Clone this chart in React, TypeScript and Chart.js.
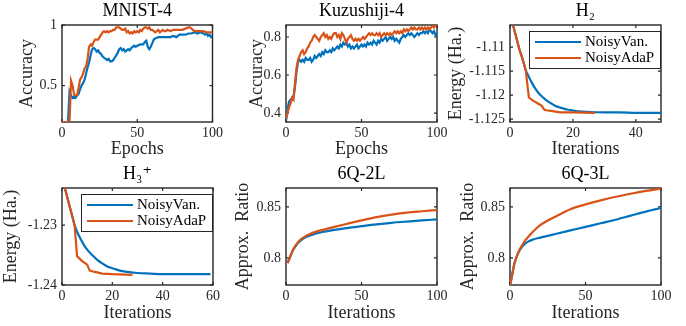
import React, { useEffect, useRef } from "react";
import { Chart, registerables } from "chart.js";
Chart.register(...registerables);

const FONT = '"Liberation Serif", "DejaVu Serif", serif';
const BLUE = "#0072BD";
const ORANGE = "#D95319";
const VAN = "NoisyVan.";
const ADA = "NoisyAdaP";

// ---------- MNIST-4 (epoch, accuracy) ----------
const mnistVan: number[][] = [
  [0, 0.2], [4, 0.2], [5, 0.45], [6, 0.42], [7, 0.4], [8, 0.41], [9, 0.4], [10, 0.42], [11, 0.43], [12, 0.47],
  [13, 0.5], [14, 0.52], [15, 0.55], [16, 0.6], [17, 0.65], [18, 0.69], [19, 0.75], [20, 0.8], [21, 0.81], [22, 0.8],
  [23, 0.78], [24, 0.79], [25, 0.77], [26, 0.76], [27, 0.74], [28, 0.73], [29, 0.72], [30, 0.71], [31, 0.72], [32, 0.7],
  [33, 0.7], [34, 0.71], [35, 0.73], [36, 0.75], [37, 0.77], [38, 0.8], [39, 0.81], [40, 0.79], [41, 0.8], [42, 0.78],
  [43, 0.79], [44, 0.8], [45, 0.79], [46, 0.81], [47, 0.82], [48, 0.83], [49, 0.82], [50, 0.83], [52, 0.84], [54, 0.84],
  [55, 0.86], [56, 0.87], [57, 0.82], [58, 0.8], [59, 0.82], [60, 0.85], [61, 0.88], [62, 0.89], [64, 0.9], [66, 0.9],
  [68, 0.9], [70, 0.9], [72, 0.9], [74, 0.91], [76, 0.9], [78, 0.92], [80, 0.92], [82, 0.92], [84, 0.93], [86, 0.93],
  [88, 0.94], [90, 0.93], [92, 0.94], [94, 0.93], [95, 0.92], [96, 0.93], [97, 0.91], [98, 0.92], [99, 0.9], [100, 0.91],
];
const mnistAda: number[][] = [
  [0, 0.2], [5, 0.2], [6, 0.54], [7, 0.5], [8, 0.43], [9, 0.42], [10, 0.42], [11, 0.48], [12, 0.55], [13, 0.57],
  [14, 0.6], [15, 0.64], [16, 0.66], [17, 0.72], [18, 0.82], [19, 0.84], [20, 0.83], [21, 0.86], [22, 0.88], [23, 0.88],
  [24, 0.88], [25, 0.9], [26, 0.92], [27, 0.94], [28, 0.95], [29, 0.94], [30, 0.95], [31, 0.94], [32, 0.95], [33, 0.95],
  [34, 0.96], [35, 0.96], [36, 0.98], [37, 0.98], [38, 0.98], [39, 0.97], [40, 0.96], [41, 0.96], [42, 0.97], [43, 0.94],
  [44, 0.95], [45, 0.93], [46, 0.94], [47, 0.93], [48, 0.95], [49, 0.94], [50, 0.95], [51, 0.94], [52, 0.96], [53, 0.95],
  [54, 0.97], [55, 0.98], [56, 0.98], [57, 0.97], [58, 0.98], [59, 0.96], [60, 0.96], [61, 0.95], [62, 0.94], [63, 0.95],
  [64, 0.96], [65, 0.94], [66, 0.95], [67, 0.96], [68, 0.95], [69, 0.95], [70, 0.96], [72, 0.95], [74, 0.96], [76, 0.96],
  [78, 0.96], [80, 0.96], [82, 0.97], [84, 0.98], [85, 0.98], [86, 0.97], [87, 0.96], [88, 0.95], [90, 0.95], [92, 0.95],
  [94, 0.95], [96, 0.94], [98, 0.94], [100, 0.94],
];

// ---------- Kuzushiji-4 (accuracy at epochs 0..100) ----------
const kuzuVan: number[] = [
  0.36, 0.42, 0.46, 0.47, 0.48, 0.49, 0.54, 0.62, 0.67, 0.68,
  0.67, 0.68, 0.67, 0.69, 0.68, 0.68, 0.69, 0.67, 0.68, 0.7,
  0.69, 0.7, 0.71, 0.7, 0.72, 0.71, 0.73, 0.72, 0.72, 0.73,
  0.72, 0.74, 0.73, 0.74, 0.75, 0.74, 0.76, 0.75, 0.77, 0.76,
  0.77, 0.75, 0.76, 0.74, 0.75, 0.74, 0.75, 0.76, 0.74, 0.75,
  0.76, 0.75, 0.76, 0.75, 0.77, 0.76, 0.77, 0.76, 0.78, 0.77,
  0.76, 0.78, 0.77, 0.79, 0.78, 0.79, 0.8, 0.78, 0.79, 0.8,
  0.79, 0.8, 0.78, 0.79, 0.78, 0.77, 0.79, 0.8, 0.81, 0.8,
  0.81, 0.82, 0.81, 0.82, 0.81, 0.8, 0.81, 0.82, 0.81, 0.82,
  0.82, 0.83, 0.82, 0.83, 0.82, 0.84, 0.83, 0.82, 0.83, 0.81, 0.82,
];
const kuzuAda: number[] = [
  0.37, 0.4, 0.43, 0.45, 0.48, 0.47, 0.56, 0.64, 0.68, 0.7,
  0.72, 0.73, 0.71, 0.72, 0.74, 0.75, 0.77, 0.78, 0.8, 0.81,
  0.8, 0.79, 0.78, 0.8, 0.81, 0.82, 0.8, 0.81, 0.79, 0.8,
  0.79, 0.81, 0.82, 0.82, 0.8, 0.81, 0.79, 0.82, 0.81, 0.79,
  0.77, 0.79, 0.8, 0.81, 0.79, 0.78, 0.79, 0.78, 0.79, 0.78,
  0.79, 0.8, 0.79, 0.8, 0.81, 0.82, 0.81, 0.82, 0.81, 0.81,
  0.82, 0.81, 0.82, 0.8, 0.81, 0.82, 0.81, 0.82, 0.81, 0.82,
  0.81, 0.82, 0.83, 0.82, 0.83, 0.82, 0.83, 0.82, 0.84, 0.83,
  0.84, 0.83, 0.84, 0.85, 0.84, 0.85, 0.84, 0.84, 0.85, 0.84,
  0.85, 0.84, 0.85, 0.84, 0.85, 0.84, 0.85, 0.86, 0.85, 0.86, 0.86,
];

// ---------- H2 (iteration, energy) ----------
const h2Van: number[][] = [
  [1, -1.1055], [2, -1.108], [3, -1.1105], [4, -1.1125], [5, -1.1148], [6, -1.1162], [7, -1.1175], [8, -1.1186],
  [9, -1.1195], [10, -1.1202], [11, -1.1208], [12, -1.1213], [13, -1.1217], [14, -1.1221], [15, -1.1224],
  [16, -1.1226], [17, -1.1228], [18, -1.123], [20, -1.1232], [22, -1.1234], [25, -1.1235], [30, -1.1236],
  [35, -1.1236], [40, -1.1237], [50, -1.1237],
];
const h2Ada: number[][] = [
  [1, -1.1055], [2, -1.108], [3, -1.1105], [4, -1.1125], [5, -1.1148], [6, -1.1205], [7, -1.121], [8, -1.1214],
  [9, -1.1218], [10, -1.1222], [11, -1.1231], [12, -1.1232], [13, -1.1233], [14, -1.1234], [15, -1.1235],
  [16, -1.1236], [20, -1.1236], [27, -1.1237],
];

// ---------- H3+ (iteration, energy) ----------
const h3Van: number[][] = [
  [1, -1.2236], [2, -1.2252], [3, -1.2268], [4, -1.2284], [5, -1.23], [6, -1.2311], [7, -1.232], [8, -1.2328],
  [9, -1.2335], [10, -1.2341], [12, -1.235], [14, -1.2358], [16, -1.2364], [18, -1.2369], [20, -1.2372],
  [23, -1.2376], [26, -1.2378], [30, -1.238], [35, -1.2381], [40, -1.2382], [50, -1.2382], [59, -1.2382],
];
const h3Ada: number[][] = [
  [1, -1.2236], [2, -1.2252], [3, -1.2268], [4, -1.2284], [5, -1.23], [6, -1.2352], [7, -1.2356], [8, -1.236],
  [9, -1.2363], [10, -1.2366], [11, -1.2376], [12, -1.2377], [13, -1.2378], [14, -1.2379], [16, -1.2381],
  [20, -1.2382], [28, -1.2383],
];

// ---------- 6Q-2L (iteration, approx. ratio) ----------
const q2Van: number[][] = [
  [1, 0.795], [2, 0.7985], [3, 0.802], [4, 0.8055], [5, 0.8085], [6, 0.8108], [7, 0.8128], [8, 0.8148],
  [10, 0.8175], [12, 0.8195], [15, 0.8215], [20, 0.824], [25, 0.8257], [30, 0.827], [40, 0.8293],
  [50, 0.8312], [60, 0.833], [70, 0.8345], [80, 0.8357], [90, 0.8368], [100, 0.8378],
];
const q2Ada: number[][] = [
  [1, 0.795], [2, 0.7985], [3, 0.8025], [4, 0.806], [5, 0.809], [6, 0.8115], [7, 0.8135], [8, 0.8155],
  [10, 0.8185], [12, 0.8205], [15, 0.823], [20, 0.8258], [25, 0.8278], [30, 0.8297], [40, 0.8333],
  [50, 0.8368], [60, 0.84], [70, 0.8425], [80, 0.8445], [90, 0.8458], [100, 0.847],
];

// ---------- 6Q-3L (iteration, approx. ratio) ----------
const q3Van: number[][] = [
  [0, 0.773], [1, 0.78], [2, 0.788], [3, 0.795], [4, 0.7995], [5, 0.8035], [6, 0.8065], [7, 0.809],
  [8, 0.811], [10, 0.814], [12, 0.816], [15, 0.818], [20, 0.82], [25, 0.8217], [30, 0.8235], [40, 0.827],
  [50, 0.8305], [60, 0.834], [70, 0.8375], [80, 0.8415], [90, 0.8455], [100, 0.849],
];
const q3Ada: number[][] = [
  [0, 0.773], [1, 0.78], [2, 0.788], [3, 0.795], [4, 0.7995], [5, 0.8035], [6, 0.807], [7, 0.81],
  [8, 0.8125], [10, 0.8172], [12, 0.8205], [15, 0.8255], [20, 0.8323], [25, 0.8367], [30, 0.8405],
  [40, 0.8478], [50, 0.8525], [60, 0.8565], [70, 0.86], [80, 0.863], [90, 0.8657], [100, 0.868],
];

// ---------- axis ticks ----------
const epochTicks = [0, 50, 100];
const h2XTicks = [0, 20, 40];
const h3XTicks = [0, 20, 40, 60];
const mnistYTicks = [0.5, 1];
const mnistYLabels = ["0.5", "1"];
const kuzuYTicks = [0.4, 0.6, 0.8];
const kuzuYLabels = ["0.4", "0.6", "0.8"];
const h2YTicks = [-1.125, -1.12, -1.115, -1.11];
const h2YLabels = ["-1.125", "-1.12", "-1.115", "-1.11"];
const h3YTicks = [-1.24, -1.23];
const h3YLabels = ["-1.24", "-1.23"];
const qYTicks = [0.8, 0.85];
const qYLabels = ["0.8", "0.85"];

const pairs = (arr: number[][]) => arr.map(([x, y]) => ({ x, y }));
const indexed = (arr: number[]) => arr.map((y, x) => ({ x, y }));

type Cfg = {
  title: string; xTitle: string; yTitle: string;
  xMin: number; xMax: number; yMin: number; yMax: number;
  xTicks: number[]; yTicks: number[]; yLabels: string[];
  van: { x: number; y: number }[]; ada: { x: number; y: number }[];
  smooth: boolean; adaSharp: boolean; legend: boolean;
  left: number; top: number; w: number; h: number;
  yAxisW: number; padRight: number; yTitlePad: number; xTitlePad: number;
};

const boxPlugin = {
  id: "mbox",
  beforeDatasetsDraw(chart: any) {
    const { ctx, chartArea: a, scales } = chart;
    ctx.save();
    ctx.strokeStyle = "#262626";
    ctx.lineWidth = 1.4;
    ctx.strokeRect(a.left, a.top, a.right - a.left, a.bottom - a.top);
    const L = 3;
    ctx.lineWidth = 1.2;
    ctx.beginPath();
    scales.x.ticks.forEach((t: any) => {
      const p = scales.x.getPixelForValue(t.value);
      ctx.moveTo(p, a.bottom); ctx.lineTo(p, a.bottom - L);
      ctx.moveTo(p, a.top); ctx.lineTo(p, a.top + L);
    });
    scales.y.ticks.forEach((t: any) => {
      const p = scales.y.getPixelForValue(t.value);
      ctx.moveTo(a.left, p); ctx.lineTo(a.left + L, p);
      ctx.moveTo(a.right, p); ctx.lineTo(a.right - L, p);
    });
    ctx.stroke();
    ctx.restore();
  },
};

const legendPlugin = {
  id: "mlegend",
  afterDatasetsDraw(chart: any, _args: any, opts: any) {
    if (!opts || !opts.show) return;
    const { ctx, chartArea: a } = chart;
    const w = 131, h = 37;
    const x0 = Math.round(a.right - 1 - w), y0 = Math.round(a.top + 6);
    ctx.save();
    ctx.fillStyle = "#fff";
    ctx.fillRect(x0, y0, w, h);
    ctx.strokeStyle = "#262626";
    ctx.lineWidth = 1;
    ctx.strokeRect(x0 + 0.5, y0 + 0.5, w, h);
    chart.data.datasets.forEach((ds: any, i: number) => {
      const y = y0 + 11 + i * 16;
      ctx.strokeStyle = ds.borderColor;
      ctx.lineWidth = 2;
      ctx.beginPath();
      ctx.moveTo(x0 + 6, y);
      ctx.lineTo(x0 + 52, y);
      ctx.stroke();
      ctx.fillStyle = "#000";
      ctx.font = `15px ${FONT}`;
      ctx.textBaseline = "middle";
      ctx.textAlign = "left";
      ctx.fillText(ds.label, x0 + 56, y + 0.5);
    });
    ctx.restore();
  },
};

function Panel({ cfg }: { cfg: Cfg }) {
  const ref = useRef<HTMLCanvasElement>(null);
  useEffect(() => {
    const tickFont = { family: FONT, size: 14 };
    const titleFont = { family: FONT, size: 18, weight: "normal" as const };
    const chart = new Chart(ref.current!, {
      type: "line",
      data: {
        datasets: [
          {
            label: VAN, data: cfg.van, borderColor: BLUE, backgroundColor: BLUE,
            borderWidth: 2.2, pointRadius: 0, fill: false, order: 1,
            cubicInterpolationMode: cfg.smooth ? "monotone" : "default", tension: 0,
          },
          {
            label: ADA, data: cfg.ada, borderColor: ORANGE, backgroundColor: ORANGE,
            borderWidth: 2.2, pointRadius: 0, fill: false, order: 0,
            cubicInterpolationMode: cfg.smooth && !cfg.adaSharp ? "monotone" : "default", tension: 0,
          },
        ],
      },
      options: {
        animation: false,
        responsive: false,
        devicePixelRatio: 1,
        parsing: false as any,
        layout: { padding: { left: 0, top: 0, right: cfg.padRight, bottom: 0 } },
        plugins: {
          legend: { display: false },
          tooltip: { enabled: false },
          title: {
            display: true, text: cfg.title, fullSize: false, color: "#000",
            font: titleFont, padding: { top: 0.5, bottom: 2.9 },
          },
          mlegend: { show: cfg.legend },
        } as any,
        scales: {
          x: {
            type: "linear", min: cfg.xMin, max: cfg.xMax,
            afterBuildTicks: (s: any) => { s.ticks = cfg.xTicks.map((v) => ({ value: v })); },
            afterFit: (s: any) => { s.height = 41; },
            grid: { display: false, drawTicks: false },
            border: { display: false },
            ticks: {
              autoSkip: false, maxRotation: 0, minRotation: 0, padding: 3, color: "#262626",
              font: tickFont, callback: (v: any) => String(v),
            },
            title: {
              display: true, text: cfg.xTitle, color: "#262626", font: titleFont,
              padding: { top: 0, bottom: cfg.xTitlePad },
            },
          },
          y: {
            type: "linear", min: cfg.yMin, max: cfg.yMax,
            afterBuildTicks: (s: any) => { s.ticks = cfg.yTicks.map((v) => ({ value: v })); },
            afterFit: (s: any) => { s.width = cfg.yAxisW; },
            grid: { display: false, drawTicks: false },
            border: { display: false },
            ticks: {
              autoSkip: false, padding: 5, color: "#262626", font: tickFont,
              callback: (_v: any, i: number) => cfg.yLabels[i],
            },
            title: {
              display: true, text: cfg.yTitle, color: "#262626", font: titleFont,
              padding: { top: cfg.yTitlePad, bottom: 0 },
            },
          },
        },
      } as any,
      plugins: [boxPlugin, legendPlugin],
    });
    return () => chart.destroy();
  }, []);
  return (
    <canvas
      ref={ref}
      width={cfg.w}
      height={cfg.h}
      style={{ position: "absolute", left: cfg.left, top: cfg.top, width: cfg.w, height: cfg.h }}
    />
  );
}

const COLS = [
  { left: 0, w: 226, yAxisW: 62, padRight: 13 },
  { left: 226, w: 226, yAxisW: 60, padRight: 15 },
  { left: 440, w: 246, yAxisW: 70, padRight: 25 },
];

const panels: Cfg[] = [
  {
    title: "MNIST-4", xTitle: "Epochs", yTitle: "Accuracy",
    xMin: 0, xMax: 100, yMin: 0.2, yMax: 1, xTicks: epochTicks, yTicks: mnistYTicks, yLabels: mnistYLabels,
    van: pairs(mnistVan), ada: pairs(mnistAda), smooth: false, adaSharp: true, legend: false,
    ...COLS[0], top: 0, h: 163, yTitlePad: 16.4, xTitlePad: 3.2,
  },
  {
    title: "Kuzushiji-4", xTitle: "Epochs", yTitle: "Accuracy",
    xMin: 0, xMax: 100, yMin: 0.353, yMax: 0.863, xTicks: epochTicks, yTicks: kuzuYTicks, yLabels: kuzuYLabels,
    van: indexed(kuzuVan), ada: indexed(kuzuAda), smooth: false, adaSharp: true, legend: false,
    ...COLS[1], top: 0, h: 163, yTitlePad: 20, xTitlePad: 3.2,
  },
  {
    title: "H\u2082", xTitle: "Iterations", yTitle: "Energy (Ha.)",
    xMin: 0, xMax: 48, yMin: -1.1256, yMax: -1.1054, xTicks: h2XTicks, yTicks: h2YTicks, yLabels: h2YLabels,
    van: pairs(h2Van), ada: pairs(h2Ada), smooth: true, adaSharp: true, legend: true,
    ...COLS[2], top: 0, h: 163, yTitlePad: 5.2, xTitlePad: 3.2,
  },
  {
    title: "H\u2083\u207A", xTitle: "Iterations", yTitle: "Energy (Ha.)",
    xMin: 0, xMax: 60, yMin: -1.24, yMax: -1.2238, xTicks: h3XTicks, yTicks: h3YTicks, yLabels: h3YLabels,
    van: pairs(h3Van), ada: pairs(h3Ada), smooth: true, adaSharp: true, legend: true,
    ...COLS[0], top: 163, h: 163, yTitlePad: 0, xTitlePad: 2.2,
  },
  {
    title: "6Q-2L", xTitle: "Iterations", yTitle: "Approx.  Ratio",
    xMin: 0, xMax: 100, yMin: 0.7735, yMax: 0.8686, xTicks: epochTicks, yTicks: qYTicks, yLabels: qYLabels,
    van: pairs(q2Van), ada: pairs(q2Ada), smooth: true, adaSharp: false, legend: false,
    ...COLS[1], top: 163, h: 163, yTitlePad: 6.7, xTitlePad: 2.2,
  },
  {
    title: "6Q-3L", xTitle: "Iterations", yTitle: "Approx.  Ratio",
    xMin: 0, xMax: 100, yMin: 0.7735, yMax: 0.8686, xTicks: epochTicks, yTicks: qYTicks, yLabels: qYLabels,
    van: pairs(q3Van), ada: pairs(q3Ada), smooth: true, adaSharp: false, legend: false,
    ...COLS[2], top: 163, h: 163, yTitlePad: 17.2, xTitlePad: 2.2,
  },
];

export default function App() {
  return (
    <div style={{ position: "absolute", left: 0, top: 0, width: 686, height: 326, background: "#fff", overflow: "hidden" }}>
      {panels.map((p, i) => (
        <Panel key={i} cfg={p} />
      ))}
    </div>
  );
}
